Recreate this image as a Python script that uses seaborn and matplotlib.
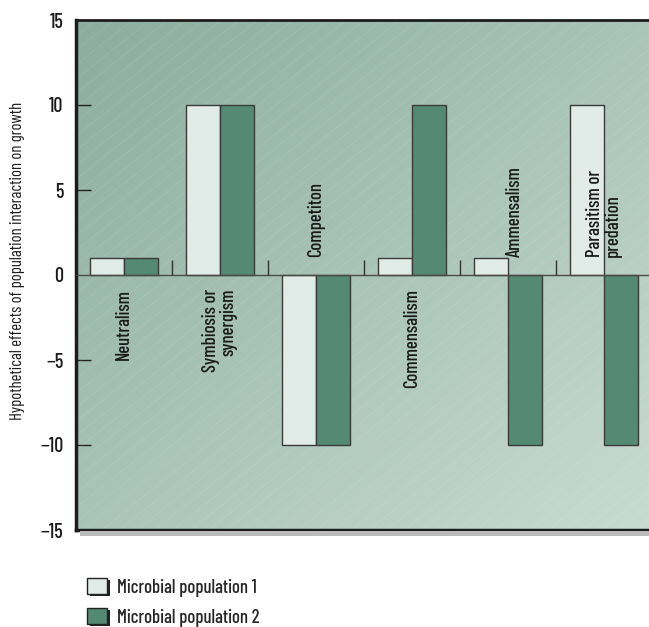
import numpy as np
import pandas as pd
import matplotlib
matplotlib.use("Agg")
import matplotlib.pyplot as plt
import matplotlib.patheffects as pe
from matplotlib.patches import Rectangle
from matplotlib.colors import LinearSegmentedColormap
import seaborn as sns

# Interaction types and the effect on each of the two populations
categories = ["Neutralism", "Symbiosis or\nsynergism", "Competiton",
              "Commensalism", "Ammensalism", "Parasitism or\npredation"]
population_1 = [1, 10, -10, 1, 1, 10]
population_2 = [1, 10, -10, 10, -10, -10]
series_names = ["Microbial population 1", "Microbial population 2"]
y_ticks = [-15, -10, -5, 0, 5, 10, 15]
y_ticklabels = ["\u221215", "\u221210", "\u22125", "0", "5", "10", "15"]
y_label = "Hypothetical effects of population interaction on growth"

df = pd.DataFrame({
    "interaction": categories * 2,
    "effect": population_1 + population_2,
    "population": [series_names[0]] * len(categories) + [series_names[1]] * len(categories),
})

sns.set_theme(style="white")
plt.rcParams["font.family"] = ["Barlow Condensed", "DejaVu Sans"]
plt.rcParams["font.weight"] = "medium"

LIGHT = "#e1ebe7"
DARK = "#548a73"
INK = "#1a1a1a"

fig = plt.figure(figsize=(6.49, 6.27), dpi=100)
ax = fig.add_axes([76 / 649, 97 / 627, 576 / 649, 510 / 627])

# soft diagonal gradient behind the bars: darker top-left, lighter bottom-right
grad_cmap = LinearSegmentedColormap.from_list("bg", ["#8cad9f", "#a9c4b8", "#c9dbd3"])
gx, gy = np.meshgrid(np.linspace(0, 1, 300), np.linspace(0, 1, 300))
ax.imshow((gx + gy) / 2, cmap=grad_cmap, extent=[0, 1, 0, 1],
          transform=ax.transAxes, aspect="auto", zorder=0, origin="upper")

# faint diagonal texture over the background
ratio = 576 / 510
for off in np.arange(-2.0, 1.2, 0.028):
    ax.plot([0, 1], [off, off + ratio * 0.8], transform=ax.transAxes,
            color="white", alpha=0.10, lw=0.6, zorder=1, clip_on=True)

sns.barplot(data=df, x="interaction", y="effect", hue="population",
            palette=[LIGHT, DARK], width=0.708, gap=0, dodge=True,
            edgecolor="#3a3a3a", linewidth=1.0, saturation=1,
            ax=ax, zorder=3, legend=True)

ax.set_xlim(-0.5, len(categories) - 0.5)
ax.set_ylim(-15, 15)

# zero line and group separators
ax.axhline(0, color="#4a4a4a", lw=1.0, zorder=4)
ax.vlines(np.arange(len(categories)) + 0.5, 0, 0.9, color="#333333", lw=1.0, zorder=4)

# category labels, written vertically next to the bars
label_spec = [
    (0, -0.8, "top", "right"),
    (1, -0.8, "top", "right"),
    (2, 1.05, "bottom", "left"),
    (3, -0.8, "top", "right"),
    (4.07, 1.05, "bottom", "left"),
    (5, 1.05, "bottom", "left"),
]
for (xpos, ypos, va, malign), text in zip(label_spec, categories):
    ax.text(xpos, ypos, text, rotation=90, ha="center", va=va,
            multialignment=malign, fontsize=13.5, color=INK,
            linespacing=0.95, zorder=5)

ax.set_xticks([])
ax.set_xlabel("")
ax.set_ylabel(y_label, fontsize=12, color=INK)
ax.yaxis.set_label_coords(-0.088, 0.527)

ax.set_yticks(y_ticks)
ax.set_yticklabels(y_ticklabels)
ax.tick_params(axis="y", direction="in", length=11, width=1.0, color="#222222",
               labelsize=14.5, pad=9, left=True, labelcolor=INK)
for t in ax.yaxis.get_major_ticks():
    if t.get_loc() in (-15, 0, 15):
        t.tick1line.set_visible(False)

for side in ["left", "top", "bottom"]:
    ax.spines[side].set_visible(True)
    ax.spines[side].set_color("#1c1c1c")
ax.spines["left"].set_linewidth(2.5)
ax.spines["top"].set_linewidth(2.0)
ax.spines["bottom"].set_linewidth(2.5)
ax.spines["right"].set_visible(False)

# drop shadow under the frame
fig.patches.append(Rectangle((80 / 649, 91 / 627), 1.0, 5 / 627, transform=fig.transFigure,
                             facecolor="#b9bcbb", edgecolor="none", zorder=0))

# legend below the chart
handles, labels = ax.get_legend_handles_labels()
leg = ax.legend(handles, labels, loc="upper left",
                bbox_to_anchor=(87 / 649, 1 - 578 / 627), bbox_transform=fig.transFigure,
                frameon=False, fontsize=13.5, handlelength=1.05, handleheight=0.95,
                handletextpad=0.55, labelspacing=0.62, borderpad=0, borderaxespad=0)
for h in leg.legend_handles:
    h.set_edgecolor("#222222")
    h.set_linewidth(1.0)
    h.set_path_effects([pe.SimplePatchShadow(offset=(2.5, -1.5), shadow_rgbFace="#222222", alpha=1),
                        pe.Normal()])

fig.savefig("out.png", dpi=100)
